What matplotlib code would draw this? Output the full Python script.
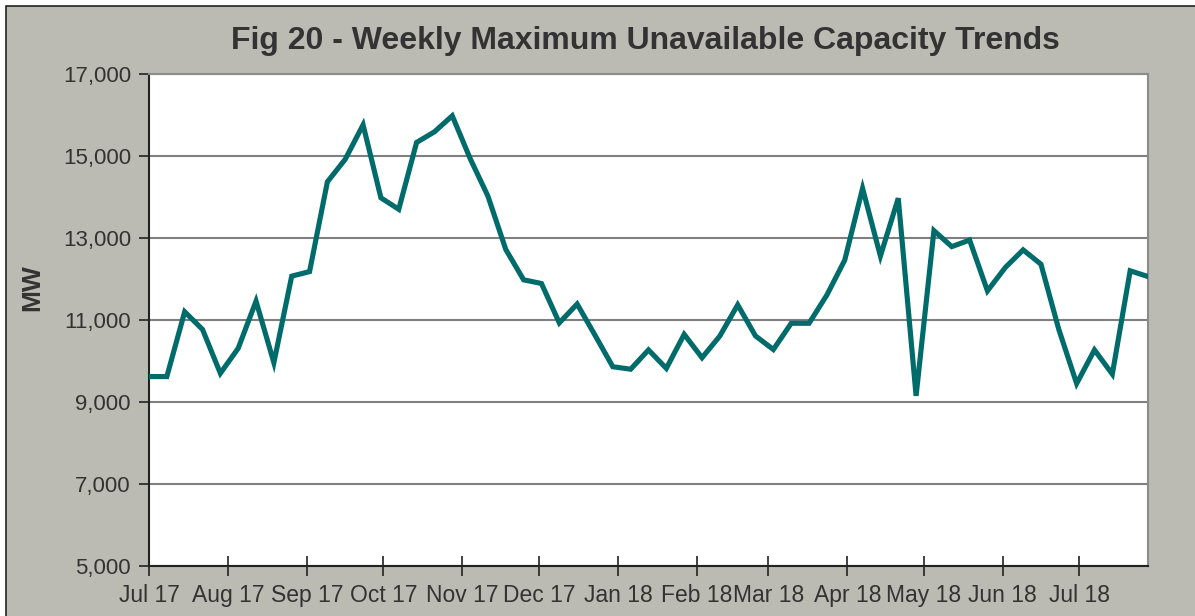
import numpy as np
import matplotlib
matplotlib.use("Agg")
import matplotlib.pyplot as plt
import matplotlib.dates as mdates
from matplotlib.patches import Rectangle

plt.rcParams["font.family"] = ["Liberation Sans", "DejaVu Sans"]

# Weekly data, first week starting 1 Jul 2017
start = np.datetime64("2017-07-01")
mw = [
    9620, 9620, 11200, 10770, 9700, 10310, 11460, 9960, 12070, 12180,
    14370, 14920, 15760, 13980, 13700, 15330, 15590, 15980, 14940, 14020,
    12720, 11980, 11890, 10930, 11390, 10630, 9860, 9800, 10270, 9820,
    10650, 10080, 10610, 11370, 10610, 10280, 10920, 10920, 11610, 12460,
    14210, 12560, 13970, 9150, 13180, 12790, 12950, 11710, 12280, 12710,
    12360, 10770, 9450, 10270, 9680, 12200, 12060,
]
weeks = start + np.arange(len(mw)) * np.timedelta64(7, "D")
weeks = weeks.astype("datetime64[D]").astype(object)

bg = "#BBBBB3"
ink = "#333333"
teal = "#006B6B"

fig = plt.figure(figsize=(11.95, 6.16), dpi=100, facecolor="white")
# grey chart frame (cropped on right/bottom)
frame = Rectangle((6 / 1195, -0.05), 1.1, 1 - 6 / 616 + 0.05,
                  transform=fig.transFigure, facecolor=bg,
                  edgecolor="#222222", linewidth=1.2, zorder=-10)
fig.patches.append(frame)

ax = fig.add_axes([149 / 1195, 1 - 566 / 616, (1148 - 149) / 1195, (566 - 74) / 616])
ax.set_zorder(5)
ax.set_facecolor("white")

ax.plot(weeks, mw, color=teal, linewidth=3.7, solid_joinstyle="miter", zorder=3)

ax.set_ylim(5000, 17000)
ax.set_yticks(np.arange(5000, 17001, 2000))
ax.yaxis.set_major_formatter(matplotlib.ticker.FuncFormatter(lambda v, p: f"{int(v):,}"))
ax.set_xlim(weeks[0], weeks[-1])
ax.xaxis.set_major_locator(mdates.MonthLocator())
ax.xaxis.set_major_formatter(mdates.DateFormatter("%b %y"))

ax.grid(axis="y", color="#7F7F7F", linewidth=1.5, zorder=1)
for s in ("top", "right"):
    ax.spines[s].set_color("#8C8C8C")
    ax.spines[s].set_linewidth(1.5)
for s in ("left", "bottom"):
    ax.spines[s].set_color("#222222")
    ax.spines[s].set_linewidth(1.5)

ax.tick_params(axis="y", direction="out", length=7, width=1.2, color="#222222",
               labelsize=16, labelcolor=ink, pad=6)
ax.tick_params(axis="x", direction="inout", length=14, width=1.2, color="#222222",
               labelsize=16.5, labelcolor=ink, pad=6)

ax.set_ylabel("MW", fontsize=19, fontweight="bold", color=ink)
ax.yaxis.set_label_coords(-0.105, 0.565)
fig.suptitle("Fig 20 - Weekly Maximum Unavailable Capacity Trends",
             x=645 / 1195, y=1 - 41 / 616, va="center",
             fontsize=23, fontweight="bold", color=ink)

fig.savefig("out.png", dpi=100, facecolor=fig.get_facecolor())
